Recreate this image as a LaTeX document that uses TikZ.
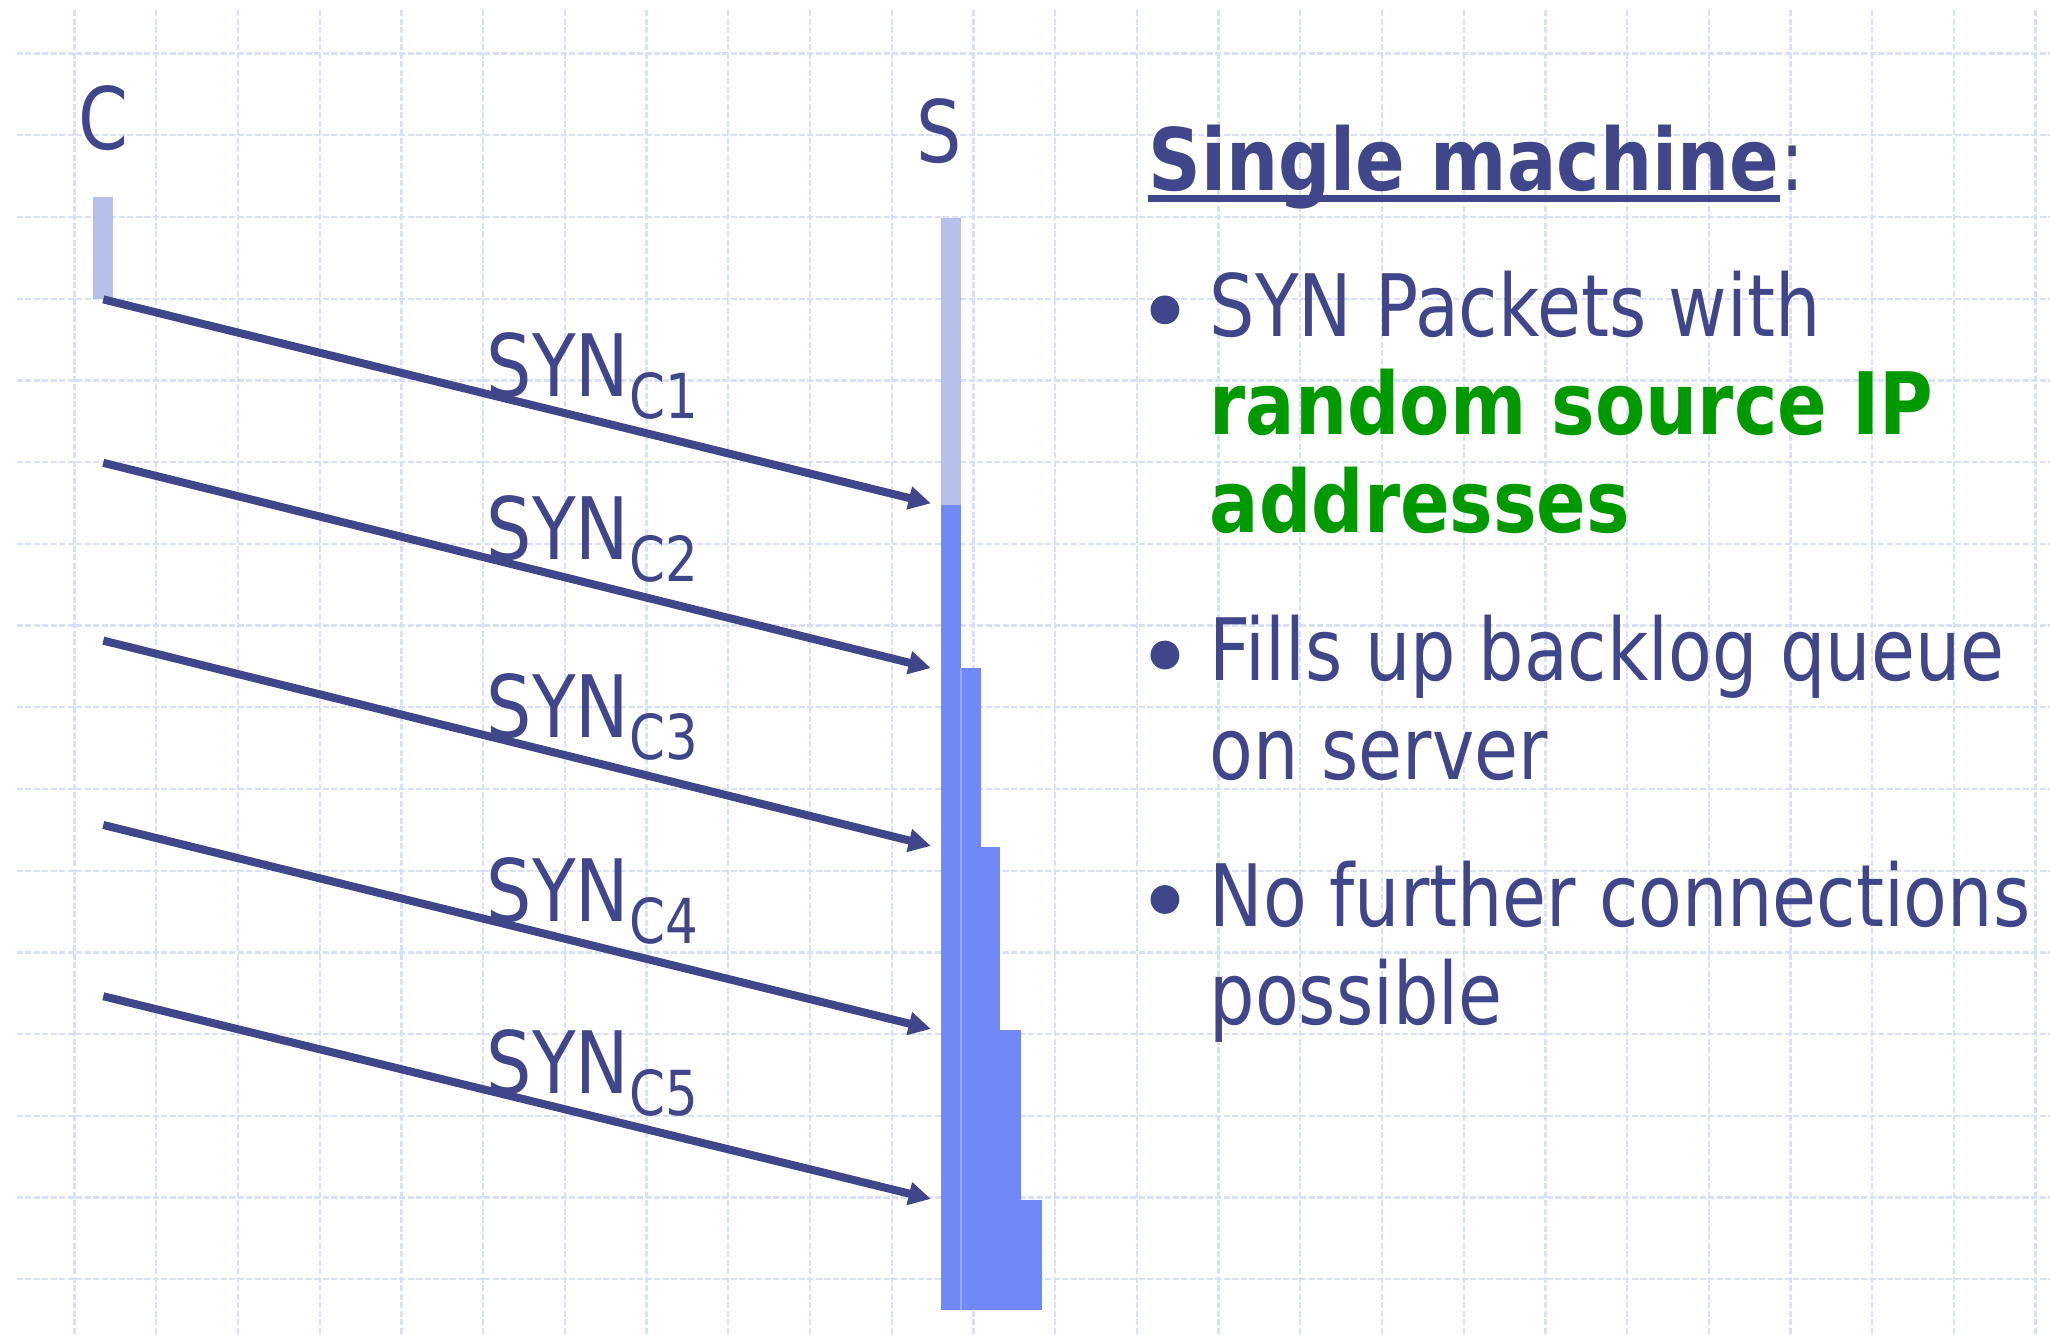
\documentclass[tikz,border=0pt]{standalone}
\usepackage{fontspec}
\setmainfont{DejaVu Sans}[FakeStretch=0.83, BoldFeatures={FakeStretch=0.85}]
\usetikzlibrary{arrows.meta}

\definecolor{navy}{RGB}{64,70,138}
\definecolor{okgreen}{RGB}{0,153,0}
\definecolor{gridblue}{RGB}{216,224,250}
\definecolor{idlebar}{RGB}{182,192,234}
\definecolor{queuebar}{RGB}{112,137,245}
\definecolor{queueedge}{RGB}{150,168,248}

\begin{document}
\begin{tikzpicture}[x=0.02cm, y=-0.02cm,
  gridline/.style={gridblue, line width=1pt, dash pattern=on 2.5pt off 1.2pt},
  msg/.style={navy, line width=3.5pt, -{Triangle[length=0.34cm,width=0.34cm]}},
  actor/.style={navy, font=\fontsize{37.5}{45}\selectfont, anchor=base, inner sep=0pt},
  synlbl/.style={navy, font=\fontsize{37.5}{45}\selectfont, anchor=base west, inner sep=0pt},
  bodytext/.style={navy, font=\fontsize{37.5}{45}\selectfont, anchor=base west, inner sep=0pt},
  hitext/.style={okgreen, font=\fontsize{37.5}{45}\selectfont\bfseries, anchor=base west, inner sep=0pt},
  headtext/.style={navy, font=\fontsize{37.5}{45}\selectfont\bfseries, anchor=base west, inner sep=0pt},
  bulletdot/.style={circle, fill=navy, inner sep=0pt, minimum size=0.44cm},
  idle/.style={fill=idlebar},
  queued/.style={fill=queuebar}]

\useasboundingbox (0,0) rectangle (1568,1021);

% background grid
\foreach \i in {0,...,24}
  \draw[gridline] (57+62.5*\i,8) -- (57+62.5*\i,1021);
\foreach \j in {0,...,15}
  \draw[gridline] (13,41+62.5*\j) -- (1568,41+62.5*\j);

% endpoints
\node[actor] (C) at (79,114) {C};
\node[actor] (S) at (718,124) {S};

% client activity
\fill[idle] (71,150.5) rectangle (86.5,229);

% server: idle part, then growing backlog queue
\fill[idle] (720,167) rectangle (735,386);
\fill[queued] (720,386) rectangle (735,1002);
\fill[queued] (735,511) rectangle (750,1002);
\fill[queued] (750,648) rectangle (765,1002);
\fill[queued] (765,788) rectangle (781,1002);
\fill[queued] (781,918) rectangle (797,1002);
\draw[queueedge, line width=0.6pt] (735,511) -- (735,1002);

% SYN messages
\foreach \k/\ys/\ye in {1/229/385, 2/354/511, 3/490/647, 4/631/787, 5/762/917} {
  \coordinate (c\k) at (79,\ys);
  \coordinate (s\k) at (712,\ye);
  \draw[msg] (c\k) -- (s\k);
  \node[synlbl] (syn\k) at (372,\ys+74)
    {SYN{\fontsize{27}{30}\selectfont\raisebox{-0.34cm}{C\k}}};
}

% heading
\node[headtext] (title) at (878,145.5) {Single machine};
\node[bodytext] (colon) at (title.base east) {:};
\draw[navy, line width=0.11cm] ([yshift=-0.13cm]title.base west) -- ([yshift=-0.13cm]title.base east);

% bullet list
\node[bulletdot] (bul1) at (891,237) {};
\node[bodytext] (b1a) at (925,257.5) {SYN Packets with};
\node[hitext] (b1b) at (925,332) {random source IP};
\node[hitext] (b1c) at (925,407) {addresses};

\node[bulletdot] (bul2) at (891,501) {};
\node[bodytext] (b2a) at (925,520.5) {Fills up backlog queue};
\node[bodytext] (b2b) at (925,596) {on server};

\node[bulletdot] (bul3) at (891,688) {};
\node[bodytext] (b3a) at (925,709) {No further connections};
\node[bodytext] (b3b) at (925,783.5) {possible};
\end{tikzpicture}
\end{document}
